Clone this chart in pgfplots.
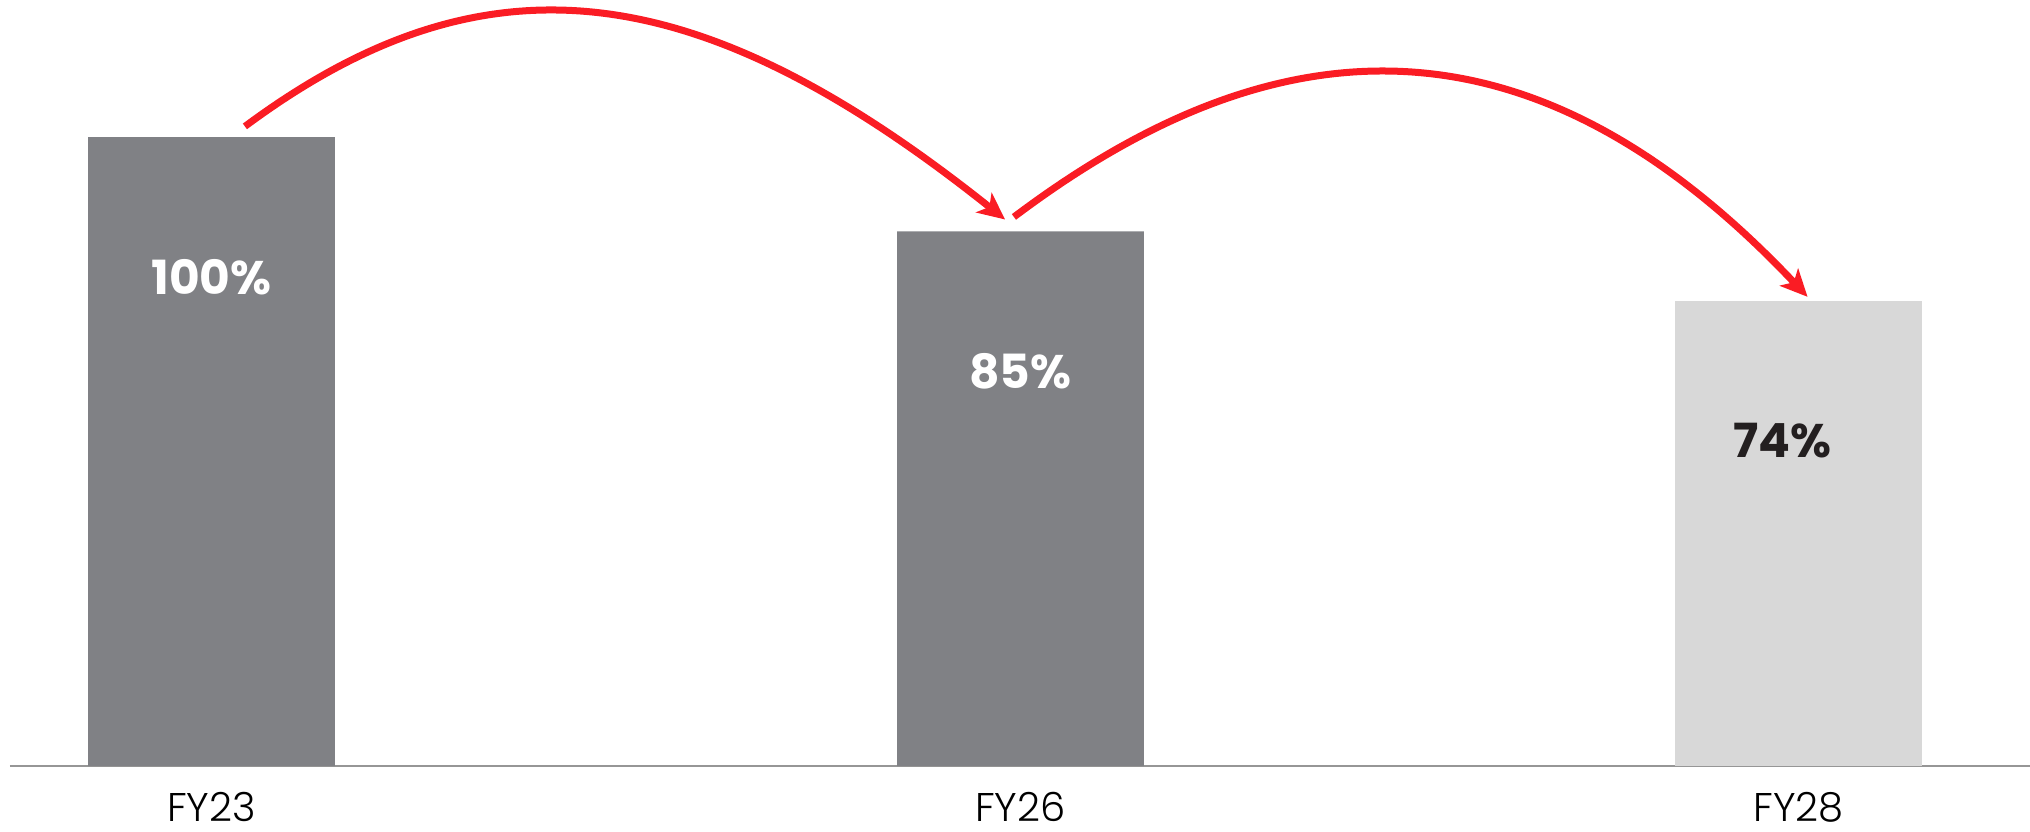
\documentclass[border=0pt]{standalone}
\usepackage{fontspec}
\setmainfont{Poppins}
\newfontfamily\lightfont{Poppins Light}
\usepackage{pgfplots}
\pgfplotsset{compat=1.18}
\usetikzlibrary{arrows.meta}

\definecolor{bardark}{RGB}{128,129,133}
\definecolor{barlight}{RGB}{216,216,216}
\definecolor{labeldark}{RGB}{35,31,32}
\definecolor{arrowred}{RGB}{250,28,36}
\definecolor{axisgray}{RGB}{150,150,150}

\begin{document}
\begin{tikzpicture}
\begin{axis}[
  name=ax,
  at={(0,0)}, anchor=south west,
  scale only axis,
  width=20.20cm, height=7.66cm,
  xmin=-0.249, xmax=2.248,
  ymin=0, ymax=121.8,
  axis x line*=bottom,
  axis y line=none,
  x axis line style={draw=axisgray, line width=0.02cm},
  xtick={0,1,1.962},
  xticklabels={FY23,FY26,FY28},
  major tick length=0pt,
  xticklabel style={font=\lightfont\fontsize{11.4pt}{13pt}\selectfont,
    text=black, anchor=center, inner sep=0pt, yshift=-0.41cm},
  ybar,
  bar width=0.305,
  clip=false,
  point meta=y,
  nodes near coords={\pgfmathprintnumber[assume math mode=true]{\pgfplotspointmeta}\%},
  every node near coord/.append style={anchor=center, yshift=-1.40cm,
    font=\bfseries\fontsize{13.4pt}{16pt}\selectfont},
]
% actual years
\addplot[fill=bardark, draw=none, bar shift=0pt,
  every node near coord/.append style={text=white}]
  coordinates {(0,100) (1,85)};
% target year
\addplot[fill=barlight, draw=none, bar shift=0pt,
  every node near coord/.append style={text=labeldark, xshift=-0.16cm}]
  coordinates {(1.962,74)};

% step arrows between the bars
\draw[arrowred, line width=0.07cm,
  -{Stealth[length=0.27cm, width=0.25cm, inset=0.07cm]}]
  (axis cs:0.0414,101.7) .. controls (axis cs:0.3377,130.0) and (axis cs:0.600,126.0)
  .. (axis cs:0.981,86.9);
\draw[arrowred, line width=0.07cm,
  -{Stealth[length=0.27cm, width=0.25cm, inset=0.07cm]}]
  (axis cs:0.992,87.3) .. controls (axis cs:1.2883,116.0) and (axis cs:1.6109,124.0)
  .. (axis cs:1.973,74.6);
\end{axis}
\pgfresetboundingbox
\path[use as bounding box] ([xshift=-0.10cm, yshift=-0.65cm]ax.south west) rectangle (ax.north east);
\end{tikzpicture}
\end{document}
